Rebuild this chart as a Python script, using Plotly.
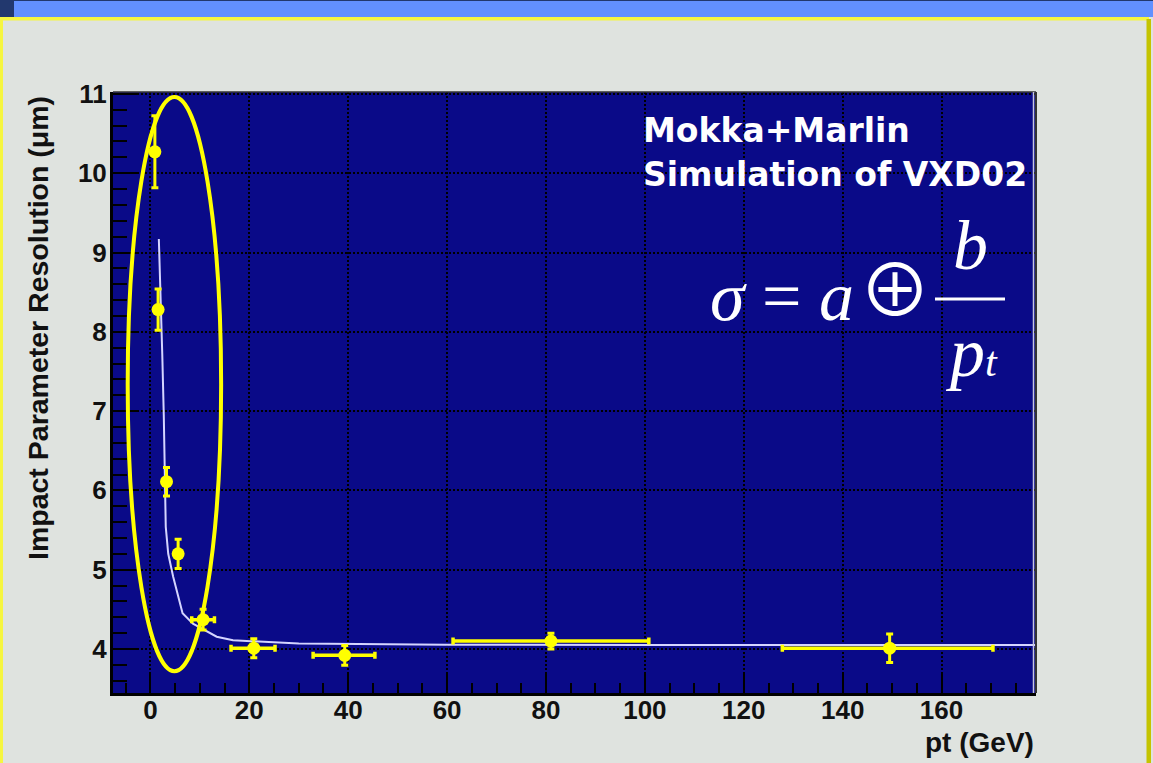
import plotly.graph_objects as go

# ---------------- data ----------------
pt = [0.9, 1.55, 3.25, 5.6, 10.65, 20.9, 39.3, 81.0, 149.5]
resolution = [10.27, 8.28, 6.11, 5.20, 4.37, 4.01, 3.92, 4.10, 4.01]
resolution_err = [0.455, 0.26, 0.18, 0.185, 0.13, 0.12, 0.125, 0.10, 0.18]
pt_err_minus = [0, 0, 0, 0, 2.3, 4.6, 6.4, 19.8, 21.7]
pt_err_plus = [0, 0, 0, 0, 2.3, 4.3, 6.1, 19.8, 20.9]

fit_pt = [1.7, 2.0, 2.4, 2.7, 3.1, 3.6, 4.6, 6.5, 8.6, 13.4, 16.7, 30, 60, 100, 179]
fit_res = [9.17, 8.6, 7.7, 6.95, 5.54, 5.2, 4.91, 4.45, 4.32, 4.155, 4.11, 4.07, 4.055, 4.05, 4.05]

x_title = "pt (GeV)"
y_title = "Impact Parameter Resolution (μm)"
label_lines = ["Mokka+Marlin", "Simulation of VXD02"]

# ---------------- layout geometry ----------------
W, H = 1153, 763
L, R, T, B = 113, 1036, 92, 693


def px(xp):
    return (xp - L) / (R - L)


def py(yp):
    return (B - yp) / (B - T)


NAVY = "#0a0a88"
PAGE = "#dfe3df"
YEL = "#ffff00"

fig = go.Figure()

fig.add_trace(go.Scatter(
    x=fit_pt, y=fit_res, mode="lines",
    line=dict(color="#d4d4ff", width=2), hoverinfo="skip", showlegend=False))

fig.add_trace(go.Scatter(
    x=pt, y=resolution, mode="markers",
    marker=dict(color=YEL, size=13, symbol="circle"),
    error_y=dict(type="data", array=resolution_err, color=YEL, thickness=3, width=3.5),
    error_x=dict(type="data", array=pt_err_plus, arrayminus=pt_err_minus,
                 color=YEL, thickness=3.5, width=3.5),
    showlegend=False))

tickfont = dict(family="Liberation Sans", size=26, color="#111111", weight="bold")

fig.update_xaxes(
    range=[-7.57, 179.1], dtick=20, tick0=0,
    showgrid=True, gridcolor="black", gridwidth=1.5, griddash="2px,2px",
    zeroline=False, showline=True, linecolor="black", linewidth=3,
    ticks="inside", ticklen=19, tickwidth=2, tickcolor="black",
    minor=dict(dtick=5, ticks="inside", ticklen=10, tickwidth=2, tickcolor="black", showgrid=False),
    tickfont=tickfont, ticklabelstandoff=-8)
fig.update_yaxes(
    range=[3.445, 11.024], dtick=1, tick0=0,
    showgrid=True, gridcolor="black", gridwidth=1.5, griddash="2px,2px",
    zeroline=False, showline=True, linecolor="black", linewidth=3,
    ticks="inside", ticklen=25, tickwidth=2, tickcolor="black",
    minor=dict(dtick=0.2, ticks="inside", ticklen=14, tickwidth=2, tickcolor="black", showgrid=False),
    tickfont=tickfont, ticklabelstandoff=-2)

shapes = []
# slide decorations
shapes.append(dict(type="rect", xref="paper", yref="paper", x0=px(0), x1=px(W), y0=py(17), y1=py(0),
                   fillcolor="#6290ff", line_width=0, layer="below"))
shapes.append(dict(type="rect", xref="paper", yref="paper", x0=px(0), x1=px(14), y0=py(17), y1=py(0),
                   fillcolor="#22386e", line_width=0, layer="below"))
shapes.append(dict(type="rect", xref="paper", yref="paper", x0=px(0), x1=px(W), y0=py(1), y1=py(0),
                   fillcolor="#22386e", line_width=0, layer="below"))
shapes.append(dict(type="rect", xref="paper", yref="paper", x0=px(0), x1=px(1149), y0=py(20.5), y1=py(17),
                   fillcolor="#f6f640", line_width=0, layer="below"))
shapes.append(dict(type="rect", xref="paper", yref="paper", x0=px(0), x1=px(3), y0=py(H), y1=py(17),
                   fillcolor="#f6f640", line_width=0, layer="below"))
shapes.append(dict(type="rect", xref="paper", yref="paper", x0=px(1146.5), x1=px(1151), y0=py(H), y1=py(19),
                   fillcolor="#c4c400", line_width=0, layer="below"))
# frame top / right
shapes.append(dict(type="line", xref="paper", yref="paper", x0=0, x1=1, y0=1, y1=1,
                   line=dict(color="#333333", width=1.5)))
shapes.append(dict(type="line", xref="paper", yref="paper", x0=px(1033.5), x1=px(1033.5), y0=0, y1=1,
                   line=dict(color="#c8c8e0", width=1.5)))
shapes.append(dict(type="line", xref="paper", yref="paper", x0=1, x1=1, y0=0, y1=1,
                   line=dict(color="#333333", width=2)))
# highlighting ellipse
shapes.append(dict(type="circle", xref="x", yref="y", x0=-4.6, x1=14.3, y0=3.72, y1=10.96,
                   line=dict(color=YEL, width=4)))
# fraction bar of the formula
shapes.append(dict(type="line", xref="paper", yref="paper", x0=px(935), x1=px(1005), y0=py(299), y1=py(299),
                   line=dict(color="white", width=3)))

ann = []
ann.append(dict(text=label_lines[0], xref="paper", yref="paper", x=px(641), y=py(130),
                xanchor="left", yanchor="middle", showarrow=False,
                font=dict(family="DejaVu Sans", size=33, color="white", weight="bold")))
ann.append(dict(text=label_lines[1], xref="paper", yref="paper", x=px(641), y=py(174),
                xanchor="left", yanchor="middle", showarrow=False,
                font=dict(family="DejaVu Sans", size=33, color="white", weight="bold")))
serif = dict(family="Liberation Serif", size=70, color="white")
ann.append(dict(text="<i>σ</i> = <i>a</i>",
                xref="paper", yref="paper", x=px(856), y=py(296),
                xanchor="right", yanchor="middle", showarrow=False, font=serif))
ann.append(dict(text="⊕",
                xref="paper", yref="paper", x=px(895), y=py(284),
                xanchor="center", yanchor="middle", showarrow=False,
                font=dict(family="Noto Sans CJK JP", size=72, color="white", weight="normal")))
ann.append(dict(text="<i>b</i>", xref="paper", yref="paper", x=px(970), y=py(245),
                xanchor="center", yanchor="middle", showarrow=False, font=serif))
ann.append(dict(text="<i>p</i><span style='font-size:42px'><i>t</i></span>", xref="paper", yref="paper",
                x=px(971), y=py(353),
                xanchor="center", yanchor="middle", showarrow=False, font=serif))
# axis titles
ann.append(dict(text=x_title, xref="paper", yref="paper", x=px(1036), y=py(742),
                xanchor="right", yanchor="middle", showarrow=False,
                font=dict(family="Liberation Sans", size=28, color="#111111", weight="bold")))
ann.append(dict(text=y_title, xref="paper", yref="paper", x=px(38), y=py(94),
                xanchor="center", yanchor="top", textangle=-90, showarrow=False,
                font=dict(family="Liberation Sans", size=28.5, color="#111111", weight="bold")))

fig.update_layout(
    width=W, height=H,
    margin=dict(l=L, r=W - R, t=T, b=H - B),
    paper_bgcolor=PAGE, plot_bgcolor=NAVY,
    shapes=shapes, annotations=ann,
    showlegend=False)

fig.write_html("out.html", config={"displayModeBar": False},
               post_script="document.body.style.margin='0';document.body.style.overflow='hidden';")
